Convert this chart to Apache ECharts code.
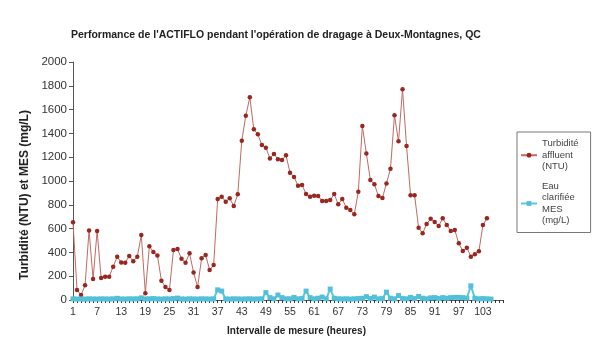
<!DOCTYPE html>
<html>
<head>
<meta charset="utf-8">
<script src="https://cdn.jsdelivr.net/npm/echarts@6/dist/echarts.min.js"></script>
<style>html,body{margin:0;padding:0;background:#fff}#c{width:600px;height:358px}</style>
</head>
<body>
<div id="c"></div>
<script>
// Categories: measurement intervals 1..108
const categories = [];
for (let i = 1; i <= 108; i++) categories.push(String(i));

// Turbidité affluent (NTU), intervals 1..104
const turbidite = [
 653, 84, 42, 123, 585, 176, 580, 185, 196, 196,
 280, 364, 316, 313, 370, 325, 364, 546, 56, 451,
 403, 375, 162, 109, 84, 420, 428, 347, 313, 392,
 232, 109, 350, 378, 252, 294, 849, 868, 826, 854,
 790, 888, 1339, 1549, 1703, 1434, 1392, 1302, 1280, 1190,
 1227, 1182, 1176, 1216, 1070, 1034, 961, 966, 891, 868,
 877, 874, 832, 832, 840, 891, 804, 849, 776, 756,
 720, 910, 1462, 1232, 1008, 972, 874, 857, 980, 1103,
 1552, 1333, 1770, 1294, 880, 880, 608, 560, 639, 683,
 655, 622, 686, 630, 580, 588, 476, 412, 440, 364,
 384, 409, 630, 686
];

// Eau clarifiée MES (mg/L), intervals 1..105
const mes = [
 10, 8, 9, 8, 10, 9, 8, 10, 9, 8,
 10, 14, 9, 8, 10, 9, 10, 18, 9, 10,
 12, 9, 8, 10, 9, 12, 16, 9, 8, 10,
 9, 8, 10, 9, 8, 10, 85, 75, 9, 8,
 10, 9, 8, 9, 10, 8, 9, 10, 62, 20,
 10, 42, 20, 10, 10, 22, 10, 12, 75, 20,
 10, 15, 25, 10, 92, 15, 10, 9, 10, 8,
 10, 12, 14, 28, 12, 24, 10, 12, 66, 15,
 10, 37, 12, 10, 22, 12, 30, 15, 10, 18,
 20, 12, 20, 15, 20, 22, 22, 20, 15, 119,
 15, 10, 12, 10, 8
];

const yTicks = { min: 0, max: 2000, interval: 200 };

const chart = echarts.init(document.getElementById('c'), null, { renderer: 'canvas' });
const font = 'Liberation Sans, Arial, sans-serif';
chart.setOption({
  animation: false,
  backgroundColor: '#fff',
  textStyle: { fontFamily: font },
  title: {
    text: "Performance de l'ACTIFLO pendant l'opération de dragage à Deux-Montagnes, QC",
    left: 66, top: 25,
    textStyle: { fontFamily: font, fontSize: 10.5, fontWeight: 'bold', color: '#222' }
  },
  legend: {
    orient: 'vertical',
    left: 517, top: 132,
    padding: [6, 12, 6, 3],
    borderColor: '#777', borderWidth: 1,
    itemWidth: 16, itemHeight: 6, itemGap: 8,
    textStyle: { fontFamily: font, fontSize: 9.5, lineHeight: 11.5, color: '#444' },
    data: ['Turbidité\naffluent\n(NTU)', 'Eau\nclarifiée\nMES\n(mg/L)']
  },
  grid: { left: 73, right: 97, top: 62, bottom: 58 },
  xAxis: {
    type: 'category',
    data: categories,
    boundaryGap: false,
    name: 'Intervalle de mesure (heures)',
    nameLocation: 'middle', nameGap: 26,
    nameTextStyle: { fontFamily: font, fontSize: 10, fontWeight: 'bold', color: '#222', padding: [0, 0, 0, 17] },
    axisLine: { lineStyle: { color: '#555', width: 1 } },
    axisTick: { interval: 0, length: 3, lineStyle: { color: '#333' } },
    axisLabel: { interval: 5, fontSize: 10.5, color: '#333', margin: 7 }
  },
  yAxis: {
    type: 'value',
    min: yTicks.min, max: yTicks.max, interval: yTicks.interval,
    name: 'Turbidité (NTU) et MES (mg/L)',
    nameLocation: 'middle', nameGap: 42,
    nameTextStyle: { fontFamily: font, fontSize: 12, fontWeight: 'bold', color: '#222', padding: [0, 28, 0, 0] },
    axisLine: { show: true, lineStyle: { color: '#555', width: 1 } },
    axisTick: { show: true, length: 4, lineStyle: { color: '#555' } },
    axisLabel: { fontSize: 11.5, color: '#333', margin: 6, formatter: v => String(v) },
    splitLine: { show: false }
  },
  series: [
    {
      name: 'Turbidité\naffluent\n(NTU)',
      type: 'line',
      data: turbidite,
      symbol: 'circle', symbolSize: 4.5,
      showAllSymbol: true,
      lineStyle: { color: '#c06a62', width: 1 },
      itemStyle: { color: '#99261f' },
      z: 3
    },
    {
      name: 'Eau\nclarifiée\nMES\n(mg/L)',
      type: 'line',
      data: mes,
      symbol: 'rect', symbolSize: 5,
      showAllSymbol: true,
      lineStyle: { color: '#5ec6da', width: 2 },
      itemStyle: { color: '#52c0d8' },
      z: 4
    }
  ]
});
</script>
</body>
</html>
